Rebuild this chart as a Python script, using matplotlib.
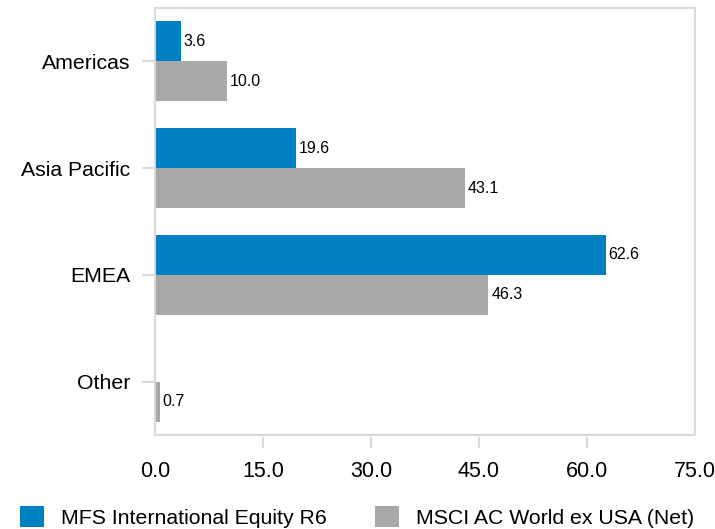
import numpy as np
import matplotlib
matplotlib.use("Agg")
import matplotlib.pyplot as plt

plt.rcParams['font.family'] = ['Liberation Sans', 'DejaVu Sans']

regions = ["Americas", "Asia Pacific", "EMEA", "Other"]
fund_name = "MFS International Equity R6"
bench_name = "MSCI AC World ex USA (Net)"
fund_vals = [3.6, 19.6, 62.6, np.nan]
bench_vals = [10.0, 43.1, 46.3, 0.7]
x_ticks = [0, 15, 30, 45, 60, 75]

blue = '#0080c2'
grey = '#a8a8a8'
spine_col = '#d9d9d9'

W, H = 715, 529
ax_l, ax_r, ax_t, ax_b = 155, 695, 8, 435
fig = plt.figure(figsize=(W/100, H/100), dpi=100)
ax = fig.add_axes([ax_l/W, 1 - ax_b/H, (ax_r - ax_l)/W, (ax_b - ax_t)/H])
aw, ah = ax_r - ax_l, ax_b - ax_t

y = np.arange(len(regions))
h = 0.375
b1 = ax.barh(y - h/2, fund_vals, height=h, color=blue, label=fund_name)
b2 = ax.barh(y + h/2, bench_vals, height=h, color=grey, label=bench_name)

fund_lbl = ["" if np.isnan(v) else f"{v:.1f}" for v in fund_vals]
bench_lbl = [f"{v:.1f}" for v in bench_vals]
ax.bar_label(b1, labels=fund_lbl, padding=2, fontsize=11.5)
ax.bar_label(b2, labels=bench_lbl, padding=2, fontsize=11.5)

ax.set_xlim(0, 75)
ax.set_ylim(len(regions) - 0.5, -0.5)
ax.set_xticks(x_ticks)
ax.set_xticklabels([f"{t:.1f}" for t in x_ticks])
ax.set_yticks(y)
ax.set_yticklabels(regions)

for s in ax.spines.values():
    s.set_color(spine_col)
    s.set_linewidth(1.5)
ax.tick_params(axis='x', length=0, pad=19, labelsize=15.5)
ax.tick_params(axis='y', length=0, pad=18, labelsize=15.3)

# detached tick marks, as in the original
xt = ax.get_xaxis_transform()
for t in x_ticks[1:-1]:
    ax.plot([t, t], [-3/ah, -12/ah], transform=xt, color=spine_col, lw=1.5, clip_on=False)
yt = ax.get_yaxis_transform()
for v in y:
    ax.plot([-12/aw, -2/aw], [v, v], transform=yt, color=spine_col, lw=1.5, clip_on=False)

fig.legend(handles=[b1, b2], loc='center left', bbox_to_anchor=(20/W, 12/H),
           ncol=2, frameon=False, fontsize=15.3, borderpad=0, borderaxespad=0,
           handlelength=1.15, handleheight=1.1, handletextpad=0.8, columnspacing=2.25)

fig.savefig("out.png", dpi=100)
